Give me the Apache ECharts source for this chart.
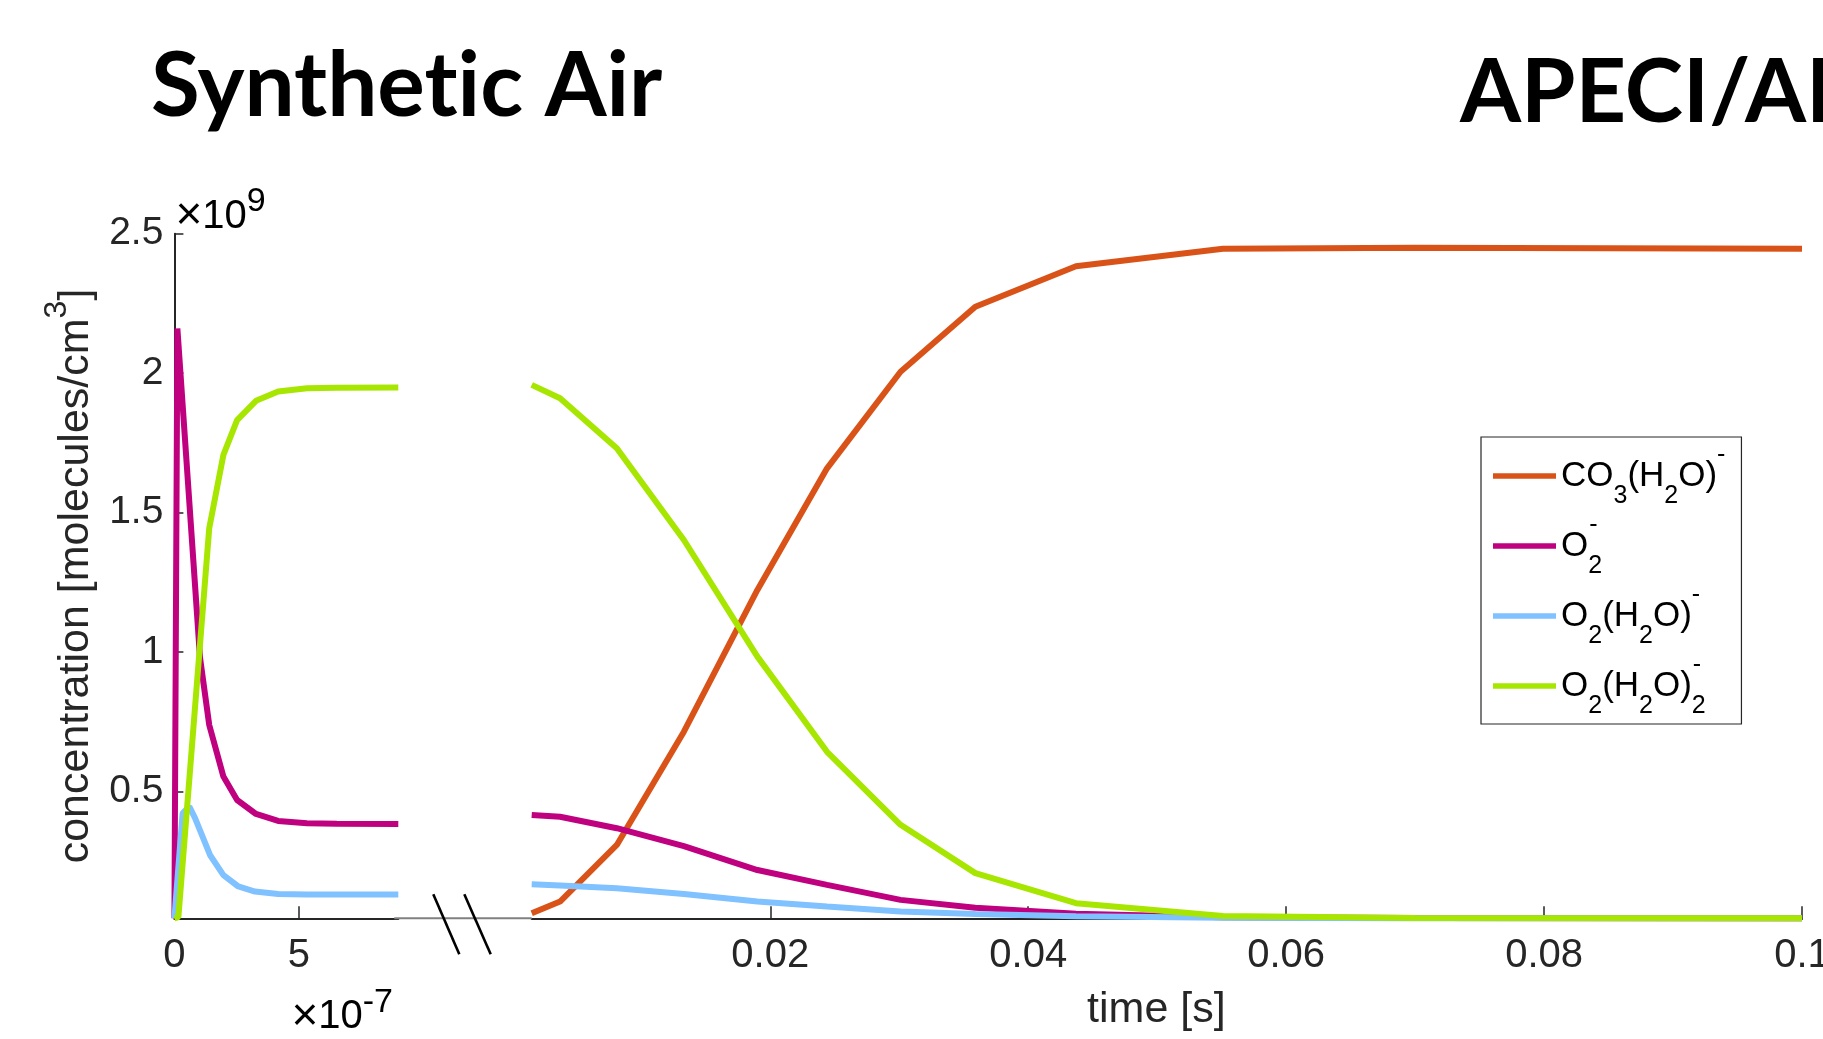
<!DOCTYPE html>
<html><head><meta charset="utf-8">
<script src="https://cdn.jsdelivr.net/npm/echarts@6/dist/echarts.min.js"></script>
<style>html,body{margin:0;padding:0;background:#fff}#c{width:1823px;height:1039px}</style>
</head><body><div id="c"></div>
<script>
// concentrations in units of 1e9 molecules/cm^3
// left panel: time in units of 1e-7 s
const tLeftO2 = [0, 0.12, 1.03, 1.40, 1.97, 2.52, 3.28, 4.17, 5.33, 6.53, 9.0];
const o2Left = [0.046, 2.16, 0.98, 0.739, 0.554, 0.470, 0.420, 0.395, 0.387, 0.385, 0.384];
const tLeftO2H2O = [0, 0.33, 0.6, 0.83, 1.43, 1.97, 2.57, 3.24, 4.17, 5.33, 9.0];
const o2h2oLeft = [0.046, 0.423, 0.446, 0.405, 0.273, 0.201, 0.160, 0.142, 0.133, 0.131, 0.131];
const tLeftO2H2O2 = [0, 0.16, 1.40, 1.97, 2.52, 3.28, 4.17, 5.33, 6.53, 9.0];
const o2h2o2Left = [0.046, 0.05, 1.444, 1.707, 1.832, 1.901, 1.934, 1.946, 1.948, 1.949];
// right panel: time in s
const tRight = [0.0015, 0.0037, 0.0081, 0.0133, 0.0190, 0.0244, 0.0301, 0.0359, 0.0437, 0.0551, 0.07, 0.1];
const co3Right = [0.064, 0.106, 0.309, 0.715, 1.223, 1.659, 2.005, 2.238, 2.383, 2.446, 2.450, 2.446];
const o2Right = [0.4165, 0.410, 0.369, 0.305, 0.219, 0.166, 0.112, 0.084, 0.062, 0.050, 0.047, 0.046];
const o2h2oRight = [0.168, 0.164, 0.154, 0.133, 0.106, 0.088, 0.070, 0.061, 0.053, 0.048, 0.046, 0.046];
const o2h2o2Right = [1.958, 1.910, 1.731, 1.402, 0.984, 0.643, 0.381, 0.208, 0.100, 0.054, 0.047, 0.046];

const yTicks = [0.5, 1, 1.5, 2, 2.5];
const xTicksLeft = [0, 5];
const xTicksRight = [0.02, 0.04, 0.06, 0.08, 0.1];
const names = ['CO3(H2O)-', 'O2-', 'O2(H2O)-', 'O2(H2O)2-'];
const colors = ['#D95319', '#BF007F', '#80C1FF', '#A6E600'];
const yMin = 0.046, yMax = 2.5;
const xLeftMax = 9, xRightMin = 0.0015, xRightMax = 0.1;

const pairs = (t, v) => t.map((x, i) => [x, v[i]]);
const FF = 'Liberation Sans';
const richLegend = {
  n: {fontSize: 35, lineHeight: 66, color: '#000', fontFamily: FF},
  s: {fontSize: 25, lineHeight: 25, verticalAlign: 'bottom', color: '#000', fontFamily: FF},
  s0: {fontSize: 25, lineHeight: 25, verticalAlign: 'bottom', width: 1, color: '#000', fontFamily: FF},
  p: {fontSize: 25, lineHeight: 39, verticalAlign: 'top', color: '#000', fontFamily: FF}
};
const legendText = {
  'CO3(H2O)-': '{n|CO}{s|3}{n|(H}{s|2}{n|O)}{p|-}',
  'O2-': '{n|O}{s0|2}{p|-}',
  'O2(H2O)-': '{n|O}{s|2}{n|(H}{s|2}{n|O)}{p|-}',
  'O2(H2O)2-': '{n|O}{s|2}{n|(H}{s|2}{n|O)}{s0|2}{p|-}'
};
const LW = 6;
function mk(name, idx, grid, data) {
  return {
    name, type: 'line', xAxisIndex: grid, yAxisIndex: grid, data,
    symbol: 'none', showSymbol: false, clip: false, z: 3,
    lineStyle: {width: LW, color: colors[idx]},
    itemStyle: {color: colors[idx]},
    emphasis: {disabled: true}
  };
}

const axisCol = '#262626';
const option = {
  animation: false,
  backgroundColor: '#fff',
  textStyle: {fontFamily: FF},
  title: [
    {text: 'Synthet\u200Cic Air', left: 151, top: 43, padding: 0,
     textStyle: {fontFamily: 'Lato', fontWeight: 'bold', fontSize: 89, color: '#000'}},
    {text: 'APECI/AI', left: 1460, top: 50, padding: 0,
     textStyle: {fontFamily: 'Lato', fontWeight: 'bold', fontSize: 88, color: '#000'}}
  ],
  grid: [
    {left: 174.4, top: 233.7, width: 223.9, height: 684.6, outerBoundsMode: 'none', containLabel: false},
    {left: 531.7, top: 233.7, width: 1270.3, height: 684.6, outerBoundsMode: 'none', containLabel: false}
  ],
  legend: {
    data: names.map(n => ({name: n, icon: 'rect'})), orient: 'vertical', left: 1481, top: 437,
    padding: [6, 16, 5, 12], itemGap: 4, itemWidth: 63, itemHeight: 5.4,
    borderColor: axisCol, borderWidth: 1.2, backgroundColor: '#fff',
    selectedMode: false,
    formatter: n => legendText[n],
    textStyle: {rich: richLegend, fontSize: 35}
  },
  xAxis: [
    {type: 'value', gridIndex: 0, min: 0, max: xLeftMax,
     axisLine: {show: true, lineStyle: {color: axisCol, width: 2}},
     axisTick: {show: true, inside: true, length: 12, customValues: xTicksLeft, lineStyle: {color: axisCol, width: 1.5}},
     axisLabel: {fontSize: 40, color: axisCol, margin: 18, customValues: xTicksLeft, formatter: v => String(v)},
     splitLine: {show: false}},
    {type: 'value', gridIndex: 1, min: xRightMin, max: xRightMax,
     axisLine: {show: true, lineStyle: {color: axisCol, width: 2}},
     axisTick: {show: true, inside: true, length: 12, customValues: xTicksRight, lineStyle: {color: axisCol, width: 1.5}},
     axisLabel: {fontSize: 40, color: axisCol, margin: 18, customValues: xTicksRight, formatter: v => String(v)},
     splitLine: {show: false},
     name: 'time [s]', nameLocation: 'middle', nameGap: 70,
     nameTextStyle: {fontSize: 43, color: axisCol, padding: [0, 21, 0, 0]}}
  ],
  yAxis: [
    {type: 'value', gridIndex: 0, min: yMin, max: yMax,
     axisLine: {show: true, lineStyle: {color: axisCol, width: 2}},
     axisTick: {show: true, inside: true, length: 9, customValues: yTicks, lineStyle: {color: axisCol, width: 1.5}},
     axisLabel: {fontSize: 39, color: axisCol, margin: 11, customValues: yTicks, formatter: v => String(v)},
     splitLine: {show: false},
     name: '{n|concentration [molecules/cm}{p|3}{n|]}', nameLocation: 'middle', nameGap: 63, nameRotate: 90,
     nameTextStyle: {color: axisCol, rich: {
       n: {fontSize: 43, lineHeight: 70, color: axisCol, fontFamily: FF},
       p: {fontSize: 32, lineHeight: 32, verticalAlign: 'top', color: axisCol, fontFamily: FF}
     }}},
    {type: 'value', gridIndex: 1, min: yMin, max: yMax, show: false, splitLine: {show: false}}
  ],
  series: [
    mk(names[0], 0, 1, pairs(tRight, co3Right)),
    mk(names[1], 1, 0, pairs(tLeftO2, o2Left)),
    mk(names[2], 2, 0, pairs(tLeftO2H2O, o2h2oLeft)),
    mk(names[3], 3, 0, pairs(tLeftO2H2O2, o2h2o2Left)),
    mk(names[1], 1, 1, pairs(tRight, o2Right)),
    mk(names[2], 2, 1, pairs(tRight, o2h2oRight)),
    mk(names[3], 3, 1, pairs(tRight, o2h2o2Right))
  ]
};

const chart = echarts.init(document.getElementById('c'));
chart.setOption(option);

const pTop = chart.convertToPixel({gridIndex: 0}, [0, yMax]);
const pLend = chart.convertToPixel({gridIndex: 0}, [xLeftMax, yMin]);
const pL0 = chart.convertToPixel({gridIndex: 0}, [0, yMin]);
const pR0 = chart.convertToPixel({gridIndex: 1}, [xRightMin, yMin]);
const ay = pL0[1];
const expRich = {
  m: {fontSize: 46, lineHeight: 64, color: axisCol, fontFamily: FF},
  n: {fontSize: 40, lineHeight: 64, color: axisCol, fontFamily: FF},
  p: {fontSize: 34, lineHeight: 34, verticalAlign: 'top', color: axisCol, fontFamily: FF}
};
chart.setOption({
  graphic: [
    {type: 'line', z: 1, shape: {x1: pLend[0] - 4, y1: ay, x2: pR0[0], y2: ay}, style: {stroke: '#808080', lineWidth: 2}},
    {type: 'line', z: 5, shape: {x1: pLend[0] + 35, y1: ay - 24, x2: pLend[0] + 61, y2: ay + 36}, style: {stroke: '#000', lineWidth: 2.6}},
    {type: 'line', z: 5, shape: {x1: pLend[0] + 66, y1: ay - 24, x2: pLend[0] + 92.4, y2: ay + 36}, style: {stroke: '#000', lineWidth: 2.6}},
    {type: 'text', z: 5, x: pTop[0] + 1, y: pTop[1] - 49,
     style: {text: '{m|×}{n|10}{p|9}', rich: expRich, verticalAlign: 'top', align: 'left'}},
    {type: 'text', z: 5, x: pL0[0] + 117, y: ay + 67,
     style: {text: '{m|×}{n|10}{p|-7}', rich: expRich, verticalAlign: 'top', align: 'left'}}
  ]
});
</script></body></html>
